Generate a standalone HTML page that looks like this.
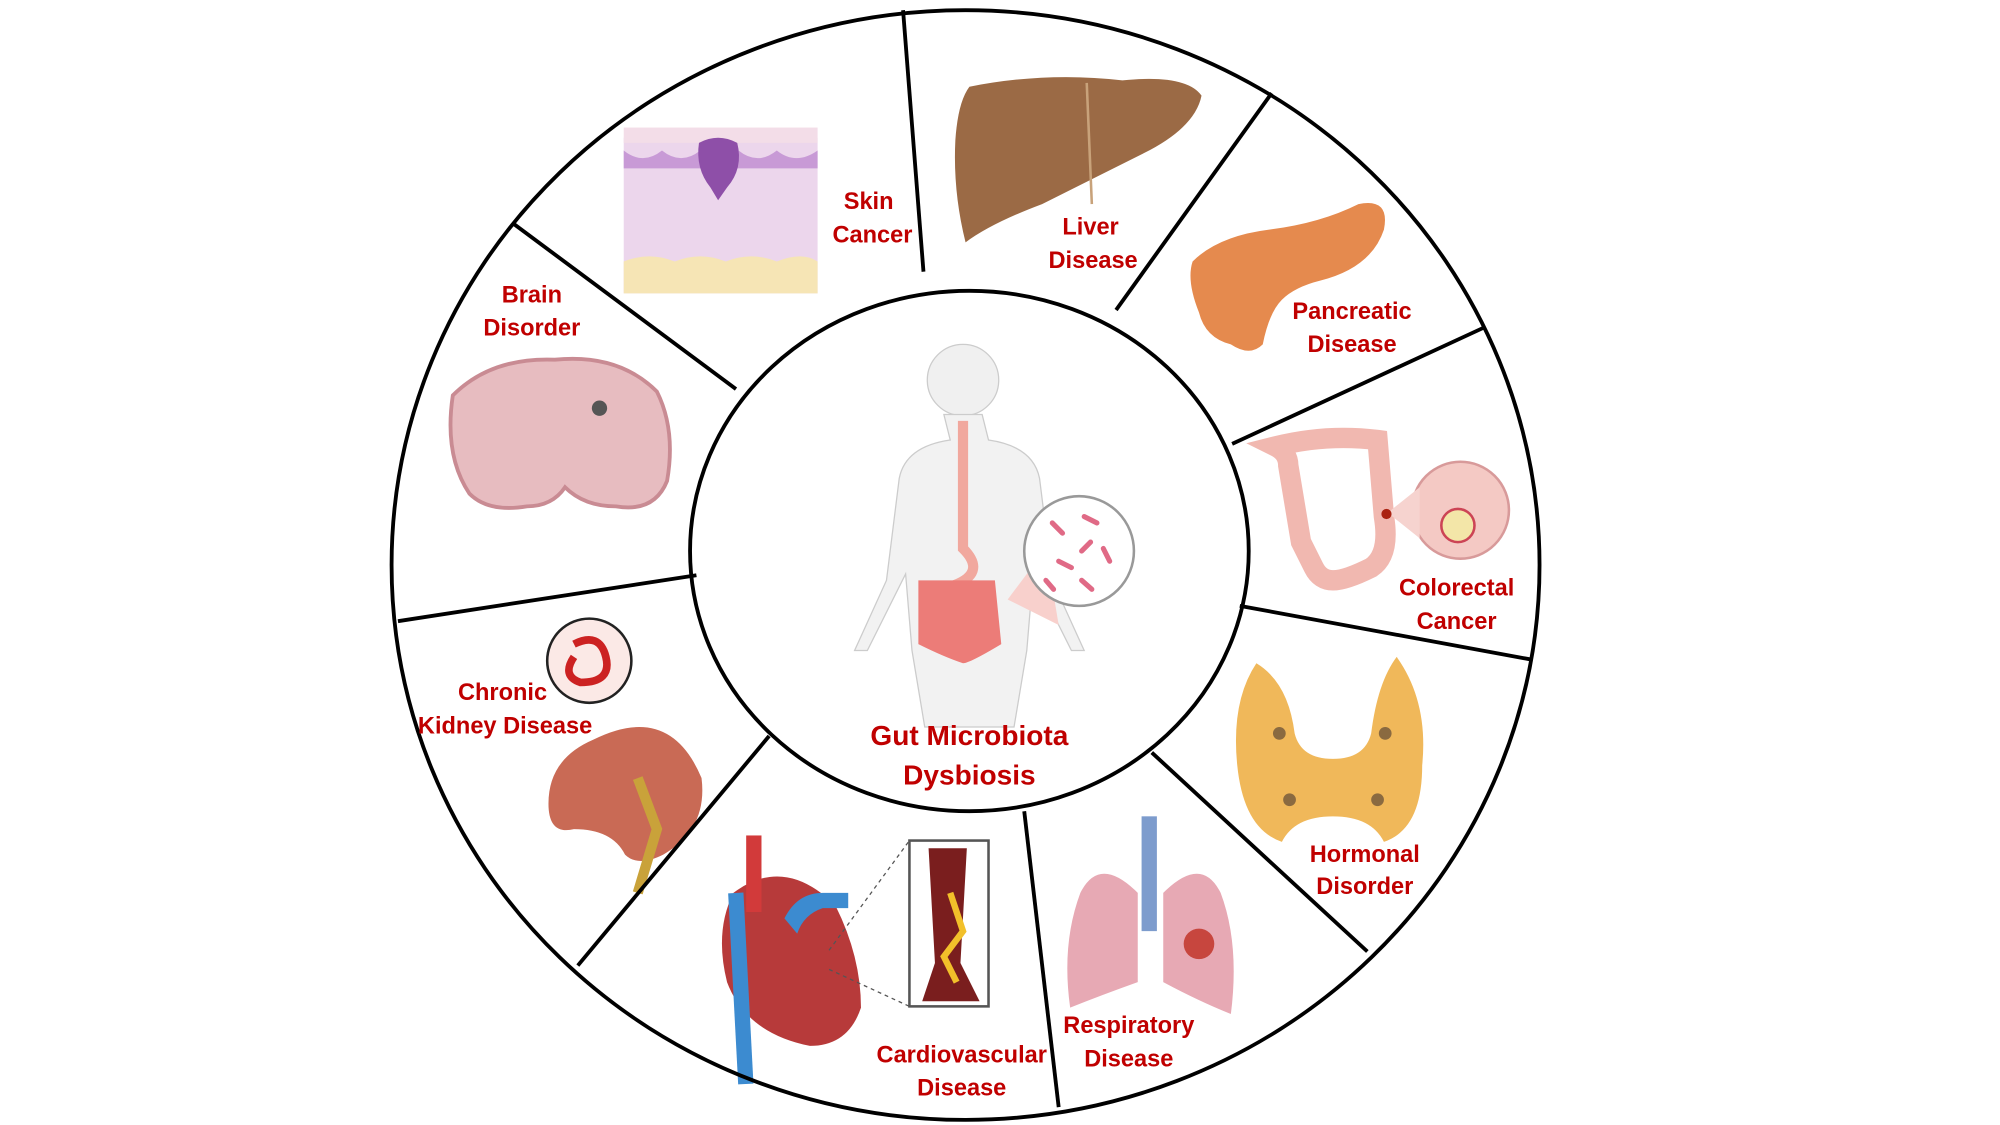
<!DOCTYPE html>
<html><head><meta charset="utf-8"><style>
html,body{margin:0;padding:0;background:#fff;width:2000px;height:1125px;overflow:hidden}
svg{display:block}
text{font-family:"Liberation Sans",sans-serif;font-weight:bold;fill:#c00000;font-size:18.5px;text-anchor:middle}
</style></head><body>
<svg width="2000" height="1125" viewBox="0 0 1568 882" preserveAspectRatio="none">
<!-- skin -->
<rect x="489" y="108" width="152" height="122" fill="#ecd6ec"/>
<rect x="489" y="100" width="152" height="12" fill="#f3dde8"/>
<path d="M489 118 q15 12 30 0 q15 12 30 0 q15 12 30 0 q15 12 30 0 q15 12 32 0 v14 h-152z" fill="#c89ad6"/>
<path d="M489 205 q20 -8 40 0 q20 -8 40 0 q20 -8 40 0 q20 -8 32 0 v25 h-152z" fill="#f6e5b5"/>
<path d="M548 112 q15 -8 30 0 q5 20 -8 35 l-7 10 l-6 -10 q-12 -15 -9 -35z" fill="#8e4fa8"/>
<!-- liver -->
<path d="M760 68 q60 -12 120 -5 q50 -5 62 12 q-5 25 -45 45 q-40 20 -80 40 q-40 15 -60 30 q-10 -40 -8 -80 q2 -30 11 -42z" fill="#9b6a45"/>
<line x1="852" y1="65" x2="856" y2="160" stroke="#c8a27a" stroke-width="2"/>
<!-- pancreas -->
<path d="M935 205 q20 -20 60 -25 q40 -5 70 -20 q25 -5 20 20 q-10 30 -50 40 q-20 5 -30 15 q-10 10 -15 35 q-10 10 -25 0 q-20 -5 -25 -25 q-10 -25 -5 -40z" fill="#e58a4e"/>
<!-- colon -->
<path d="M1000 350 q40 -10 80 -5 l5 60 q5 30 -10 40 q-20 10 -30 10 q-10 0 -15 -10 l-10 -20 l-10 -60 q0 -10 -10 -15z" fill="none" stroke="#f1b8b0" stroke-width="16"/>
<circle cx="1145" cy="400" r="38" fill="#f4c9c4" stroke="#d89a9a" stroke-width="2"/>
<path d="M1088 402 l25 -20 l0 40z" fill="#f6d3cf"/>
<circle cx="1143" cy="412" r="13" fill="#f3e6a8" stroke="#c45" stroke-width="2"/>
<circle cx="1087" cy="403" r="4" fill="#a21"/>
<!-- thyroid -->
<path d="M985 520 q-20 30 -15 80 q5 50 35 60 q10 -20 40 -20 q30 0 40 20 q30 -10 30 -60 q5 -50 -20 -85 q-15 20 -20 60 q-5 20 -30 20 q-25 0 -30 -20 q-5 -40 -30 -55z" fill="#f0b85a"/>
<circle cx="1003" cy="575" r="5" fill="#8a6a40"/><circle cx="1086" cy="575" r="5" fill="#8a6a40"/>
<circle cx="1011" cy="627" r="5" fill="#8a6a40"/><circle cx="1080" cy="627" r="5" fill="#8a6a40"/>
<!-- lungs -->
<rect x="895" y="640" width="12" height="90" fill="#7d9ccd"/>
<path d="M892 700 q-30 -30 -45 0 q-15 40 -8 90 q25 -10 53 -20z" fill="#e7a9b4"/>
<path d="M912 700 q30 -30 45 0 q15 40 8 95 q-25 -10 -53 -25z" fill="#e7a9b4"/>
<circle cx="940" cy="740" r="12" fill="#c7463e"/>
<!-- heart -->
<path d="M575 700 q40 -30 80 10 q20 40 20 80 q-10 30 -40 30 q-50 -10 -65 -50 q-10 -40 5 -70z" fill="#b73a3a"/>
<rect x="585" y="655" width="12" height="60" fill="#d23a3a"/>
<rect x="574" y="700" width="12" height="150" fill="#3c8bd0" transform="rotate(-3 580 760)"/>
<path d="M615 720 q10 -20 30 -20 l20 0 l0 12 l-20 0 q-15 5 -20 20z" fill="#3c8bd0"/>
<rect x="713" y="659" width="62" height="130" fill="#fff" stroke="#555" stroke-width="2"/>
<path d="M728 665 h30 l-5 90 l15 30 h-45 l10 -30z" fill="#7a1e1e"/>
<path d="M745 700 l10 30 l-15 20 l10 20" stroke="#f2c02a" stroke-width="5" fill="none"/>
<line x1="650" y1="745" x2="713" y2="659" stroke="#555" stroke-dasharray="3 3"/>
<line x1="650" y1="760" x2="713" y2="789" stroke="#555" stroke-dasharray="3 3"/>
<!-- kidney -->
<path d="M465 580 q60 -30 85 30 q5 40 -30 60 q-20 10 -30 0 q-10 -20 -40 -20 q-20 5 -20 -20 q0 -35 35 -50z" fill="#c96a55"/>
<path d="M500 610 l15 40 l-15 50" stroke="#c9a23a" stroke-width="8" fill="none"/>
<circle cx="462" cy="518" r="33" fill="#fbe9e6" stroke="#222" stroke-width="2"/>
<path d="M450 505 q20 -10 25 10 q5 20 -20 20 q-15 -5 -5 -20" stroke="#c22" stroke-width="6" fill="none"/>
<!-- brain -->
<path d="M355 310 q30 -30 80 -28 q50 -5 80 25 q15 30 8 70 q-10 25 -40 20 q-25 0 -40 -15 q-10 15 -30 15 q-30 5 -45 -10 q-20 -30 -13 -77z" fill="#e7bcc0" stroke="#c98b93" stroke-width="3"/>
<circle cx="470" cy="320" r="6" fill="#555"/>
<!-- human -->
<circle cx="755" cy="298" r="28" fill="#f0f0f0" stroke="#ccc"/>
<path d="M740 325 h30 l5 20 q35 5 40 30 l10 80 l25 55 h-10 l-30 -60 l-5 60 l-10 60 h-70 l-10 -60 l-5 -60 l-30 60 h-10 l25 -55 l10 -80 q5 -25 40 -30z" fill="#f2f2f2" stroke="#ccc"/>
<path d="M755 330 l0 100 q20 20 -10 30" stroke="#f1a89e" stroke-width="8" fill="none"/>
<path d="M720 455 h60 l5 50 q-25 15 -30 15 q-15 -5 -35 -15z" fill="#ec7c78"/>
<path d="M790 470 l30 -40 l10 60z" fill="#f8d0cc"/>
<circle cx="846" cy="432" r="43" fill="#fff" stroke="#999" stroke-width="2"/>
<g stroke="#e06a86" stroke-width="4" stroke-linecap="round">
<line x1="825" y1="410" x2="833" y2="418"/><line x1="850" y1="405" x2="860" y2="410"/><line x1="865" y1="430" x2="870" y2="440"/>
<line x1="830" y1="440" x2="840" y2="445"/><line x1="848" y1="455" x2="856" y2="462"/><line x1="855" y1="425" x2="848" y2="432"/><line x1="820" y1="455" x2="826" y2="462"/></g>
<!-- wheel -->
<g fill="none" stroke="#000" stroke-width="3">
<ellipse cx="757" cy="443" rx="450" ry="435"/>
<ellipse cx="760" cy="432" rx="219" ry="204"/>
<line x1="708" y1="8" x2="724" y2="213"/>
<line x1="997" y1="73" x2="875" y2="243"/>
<line x1="1163" y1="257" x2="966" y2="348"/>
<line x1="1200" y1="517" x2="972" y2="475"/>
<line x1="1072" y1="746" x2="903" y2="590"/>
<line x1="830" y1="868" x2="803" y2="636"/>
<line x1="453" y1="757" x2="603" y2="577"/>
<line x1="312" y1="487" x2="546" y2="451"/>
<line x1="402" y1="175" x2="577" y2="305"/>
</g>
<!-- labels -->
<text x="681" y="164">Skin</text><text x="684" y="190">Cancer</text>
<text x="855" y="184">Liver</text><text x="857" y="210">Disease</text>
<text x="1060" y="250">Pancreatic</text><text x="1060" y="276">Disease</text>
<text x="1142" y="467">Colorectal</text><text x="1142" y="493">Cancer</text>
<text x="1070" y="676">Hormonal</text><text x="1070" y="701">Disorder</text>
<text x="885" y="810">Respiratory</text><text x="885" y="836">Disease</text>
<text x="754" y="833">Cardiovascular</text><text x="754" y="859">Disease</text>
<text x="394" y="549">Chronic</text><text x="396" y="575">Kidney Disease</text>
<text x="417" y="237">Brain</text><text x="417" y="263">Disorder</text>
<text x="760" y="584" style="font-size:22px">Gut Microbiota</text>
<text x="760" y="615" style="font-size:22px">Dysbiosis</text>
</svg>
</body></html>
